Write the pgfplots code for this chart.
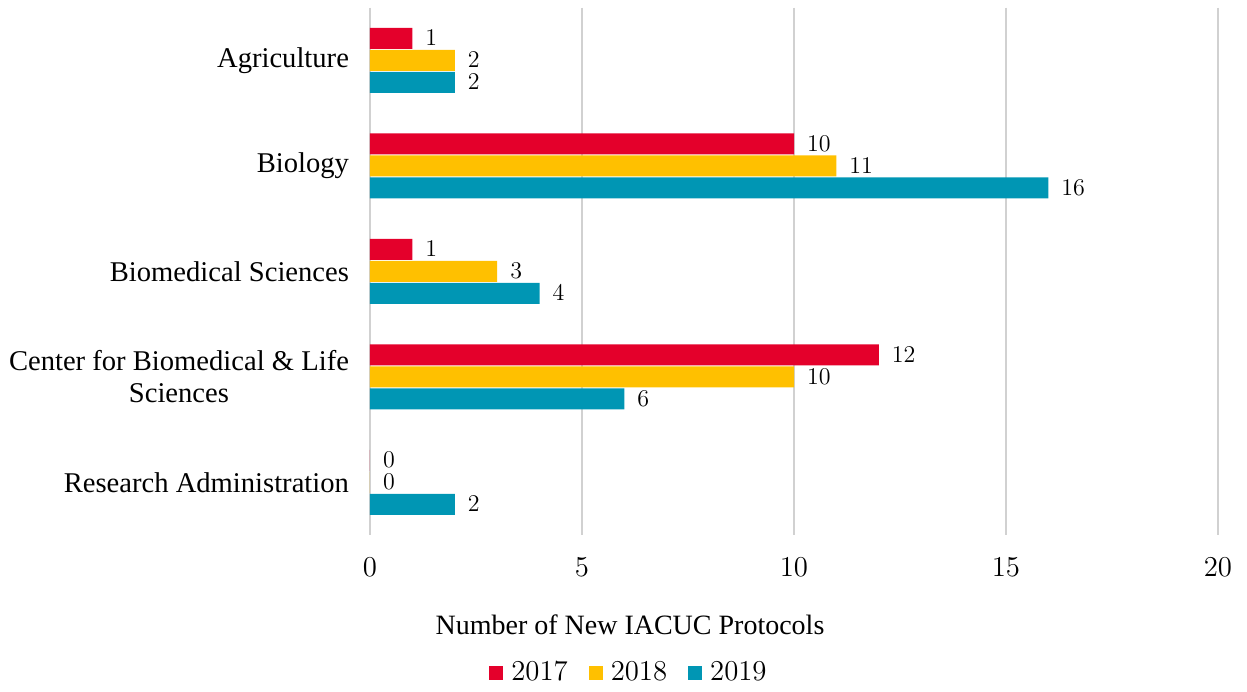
\documentclass[border=0pt]{standalone}
\usepackage{fontspec}
\setmainfont{Liberation Serif}
\usepackage{pgfplots}
\pgfplotsset{compat=1.18}
\definecolor{cA}{RGB}{228,0,43}
\definecolor{cB}{RGB}{255,192,0}
\definecolor{cC}{RGB}{0,150,180}
\begin{document}
\begin{tikzpicture}
\path (0,0) rectangle (623.5pt,343.5pt);
\begin{axis}[
 at={(185pt,76pt)}, anchor=south west,
 scale only axis, width=424pt, height=263.75pt,
 xbar, bar width=10.5pt,
 xmin=0, xmax=20, ymin=-0.5, ymax=4.5, y dir=reverse,
 xtick={0,5,10,15,20},
 ytick={0,1,2,3,4},
 yticklabels={Agriculture, Biology, Biomedical Sciences, {Center for Biomedical \& Life\\Sciences}, Research Administration},
 yticklabel style={align=center, font=\fontsize{14.3}{16}\selectfont, xshift=-7pt},
 xticklabel style={font=\fontsize{13.5}{16}\selectfont, yshift=-8pt},
 xmajorgrids, grid style={black!18, line width=0.75pt},
 axis line style={draw=none}, major tick length=0pt,
 nodes near coords, nodes near coords style={font=\fontsize{12.5}{14}\selectfont, xshift=3pt},
 xlabel={Number of New IACUC Protocols},
 xlabel style={at={(axis description cs:0.3066,-0.1706)}, anchor=center, font=\fontsize{14}{16}\selectfont},
 legend style={at={(axis description cs:0.3066,-0.262)}, anchor=center, draw=none, font=\fontsize{14}{16}\selectfont, /tikz/every even column/.append style={column sep=8.5pt}, /tikz/every odd column/.append style={column sep=2pt}},
 legend columns=3,
 legend image code/.code={\fill[#1] (0pt,-3.5pt) rectangle (7pt,3.5pt);},
]
\addplot[fill=cA, draw=none, bar shift=11pt] coordinates {(1,0) (10,1) (1,2) (12,3) (0,4)};
\addplot[fill=cB, draw=none, bar shift=0pt] coordinates {(2,0) (11,1) (3,2) (10,3) (0,4)};
\addplot[fill=cC, draw=none, bar shift=-11pt] coordinates {(2,0) (16,1) (4,2) (6,3) (2,4)};
\legend{$2017$,$2018$,$2019$}
\end{axis}
\end{tikzpicture}
\end{document}
